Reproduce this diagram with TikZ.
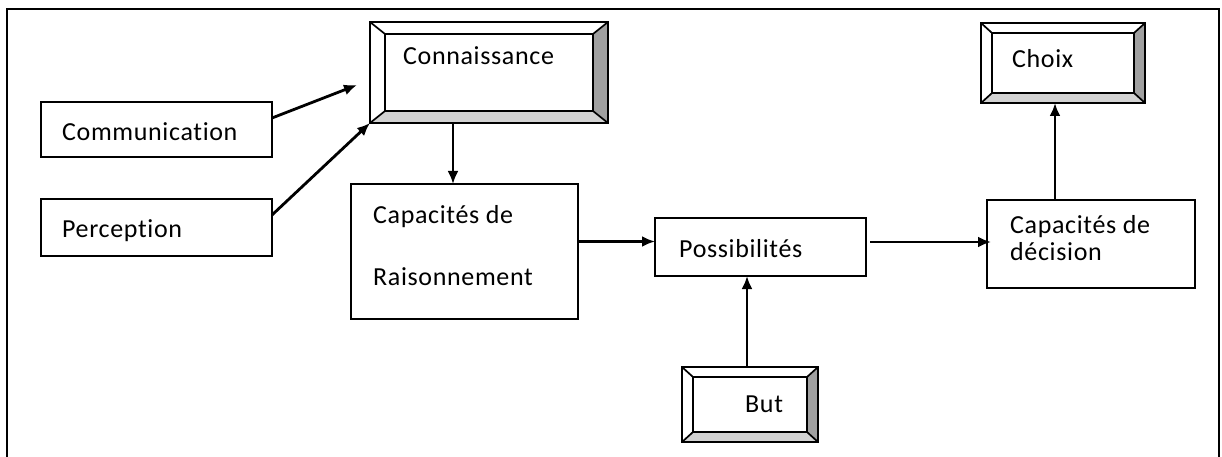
\documentclass[tikz,border=0pt]{standalone}
\usepackage{fontspec}
\setmainfont{Carlito}[Ligatures={NoCommon},LetterSpace=2.5]
\usetikzlibrary{calc,arrows.meta}

% Raised (bevelled) frame around an existing rectangle node:
% #1 node name, #2 horizontal bevel depth, #3 vertical bevel depth
\newcommand\bevelframe[3]{%
  \coordinate (#1-o1) at (#1.north west);
  \coordinate (#1-o2) at (#1.north east);
  \coordinate (#1-o3) at (#1.south east);
  \coordinate (#1-o4) at (#1.south west);
  \coordinate (#1-i1) at ($(#1.north west)+(#2,#3)$);
  \coordinate (#1-i2) at ($(#1.north east)+(-#2,#3)$);
  \coordinate (#1-i3) at ($(#1.south east)+(-#2,-#3)$);
  \coordinate (#1-i4) at ($(#1.south west)+(#2,-#3)$);
  \fill[bevdark]  (#1-o2) -- (#1-o3) -- (#1-i3) -- (#1-i2) -- cycle;
  \fill[bevlight] (#1-o3) -- (#1-o4) -- (#1-i4) -- (#1-i3) -- cycle;
  \draw[diag] (#1-o1) -- (#1-i1) (#1-o2) -- (#1-i2) (#1-o3) -- (#1-i3) (#1-o4) -- (#1-i4);
  \draw[edge] (#1-i1) rectangle (#1-i3);
  \draw[edge] (#1-o1) rectangle (#1-o3);
}

\begin{document}
\begin{tikzpicture}[x=1pt,y=-1pt,
  edge/.style={line width=2.5pt,line join=miter},
  diag/.style={line width=1.7pt},
  box/.style={draw,line width=2.5pt,inner sep=0pt,outer sep=0pt},
  raised/.style={inner sep=0pt,outer sep=0pt},
  bevdark/.style={fill={rgb,255:red,160;green,160;blue,160}},
  bevlight/.style={fill={rgb,255:red,210;green,210;blue,210}},
  lbl/.style={anchor=base west,inner sep=0pt,font=\fontsize{26}{31}\selectfont},
  arr/.style={line width=2.8pt,-{Latex[length=13pt,width=11pt]}}]

\useasboundingbox (0,0) rectangle (1222,457);

% outer frame (open at the bottom)
\draw[line width=2.2pt] (7,470) -- (7,9) -- (1219,9) -- (1219,470);

% plain boxes
\node[box,minimum width=231pt,minimum height=55pt] (comm) at (156.5,129.5) {};
\node[box,minimum width=231pt,minimum height=57pt] (perc) at (156.5,227.5) {};
\node[box,minimum width=227pt,minimum height=135pt] (rais) at (464.5,251.5) {};
\node[box,minimum width=211pt,minimum height=58pt] (poss) at (760.5,247) {};
\node[box,minimum width=208pt,minimum height=88pt] (dec) at (1091,244) {};

% raised boxes
\node[raised,minimum width=238pt,minimum height=101pt] (conn) at (489,72.5) {};
\bevelframe{conn}{15}{12}
\node[raised,minimum width=164pt,minimum height=80pt] (choix) at (1063,63) {};
\bevelframe{choix}{11}{10}
\node[raised,minimum width=136pt,minimum height=75pt] (but) at (750,404.5) {};
\bevelframe{but}{11}{10}

% labels
\node[lbl] (conn-t) at (403,65) {Connaissance};
\node[lbl] (comm-t) at (62,141) {Communication};
\node[lbl] (perc-t) at (62,237) {Perception};
\node[lbl] (rais-t1) at (373,223) {Capacités de};
\node[lbl] (rais-t2) at (373,285) {Raisonnement};
\node[lbl] (poss-t) at (679,257) {Possibilités};
\node[lbl] (choix-t) at (1012,68) {Choix};
\node[lbl] (but-t) at (745,412) {But};
\node[lbl] (dec-t1) at (1010,233) {Capacités de};
\node[lbl] (dec-t2) at (1010,260) {décision};

% connectors
\coordinate (commtip) at (357,85);
\draw[arr] ([yshift=11.5pt]comm.east) -- (commtip);
\draw[arr] ([yshift=12.5pt]perc.east) -- (conn.south west);
\draw[arr] ([xshift=-36pt]conn.south) -- ([xshift=-36pt]conn.south |- rais.north);
\draw[arr] ([yshift=10pt]rais.east) -- ([yshift=10pt]rais.east -| poss.west);
\draw[arr] ([xshift=4pt,yshift=5pt]poss.east) -- ([xshift=4pt,yshift=5pt]poss.east -| dec.west);
\draw[arr] ([xshift=-3pt]but.north) -- ([xshift=-3pt]but.north |- poss.south);
\draw[arr] ([xshift=-8pt]choix.south |- dec.north) -- ([xshift=-8pt]choix.south);
\end{tikzpicture}
\end{document}
